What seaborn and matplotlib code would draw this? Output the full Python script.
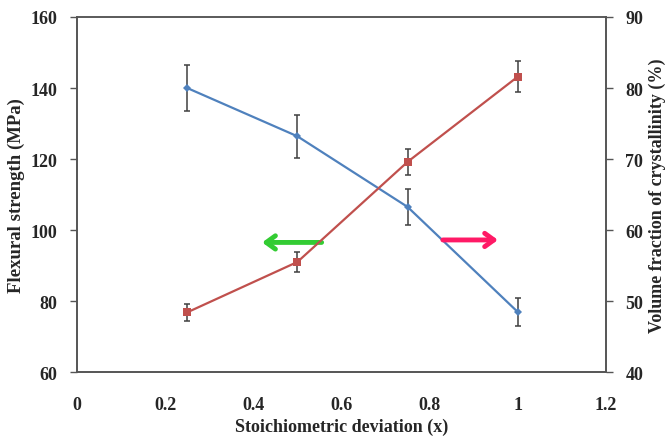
import matplotlib
matplotlib.use("Agg")
import matplotlib.pyplot as plt
import seaborn as sns
import pandas as pd

# Stoichiometric deviation and measured properties
deviation = [0.25, 0.5, 0.75, 1.0]
flexural_strength = [140.0, 126.4, 106.5, 76.9]
flexural_err = [6.4, 6.1, 5.1, 4.0]
crystallinity = [48.4, 55.5, 69.6, 81.6]
crystallinity_err = [1.15, 1.4, 1.8, 2.2]

x_ticks = [0, 0.2, 0.4, 0.6, 0.8, 1, 1.2]
x_tick_labels = ["0", "0.2", "0.4", "0.6", "0.8", "1", "1.2"]
left_ticks = [60, 80, 100, 120, 140, 160]
right_ticks = [40, 50, 60, 70, 80, 90]

sns.set_theme(style="white")
plt.rcParams["font.family"] = ["Liberation Serif", "DejaVu Serif"]
plt.rcParams["font.weight"] = "bold"

df = pd.DataFrame({"x": deviation, "strength": flexural_strength,
                   "cryst": crystallinity})

fig = plt.figure(figsize=(6.67, 4.39), dpi=100)
ax = fig.add_axes([0.1154, 0.1503, 0.7931, 0.8087])
ax2 = ax.twinx()

blue = "#4F81BD"
red = "#C0504D"
err_color = "#404040"

sns.lineplot(data=df, x="x", y="strength", ax=ax, color=blue, lw=1.6,
             marker="D", markersize=4, markeredgewidth=0, zorder=3)
ax.errorbar(deviation, flexural_strength, yerr=flexural_err, fmt="none",
            ecolor=err_color, elinewidth=1.1, capsize=2.5, capthick=1.1, zorder=2)

sns.lineplot(data=df, x="x", y="cryst", ax=ax2, color=red, lw=1.6,
             marker="s", markersize=6, markeredgewidth=0, zorder=3)
ax2.errorbar(deviation, crystallinity, yerr=crystallinity_err, fmt="none",
             ecolor=err_color, elinewidth=1.1, capsize=2.5, capthick=1.1, zorder=2)

ax.set_xlim(0, 1.2)
ax.set_ylim(60, 160)
ax2.set_ylim(40, 90)
ax.set_xticks(x_ticks)
ax.set_xticklabels(x_tick_labels)
ax.set_yticks(left_ticks)
ax2.set_yticks(right_ticks)

for a in (ax, ax2):
    for s in a.spines.values():
        s.set_color("#555555")
        s.set_linewidth(1.2)
    a.tick_params(axis="both", which="major", direction="out", length=5,
                  width=1, color="#555555", labelsize=13, pad=4)
    for lbl in a.get_xticklabels() + a.get_yticklabels():
        lbl.set_fontweight("bold")
ax.tick_params(axis="y", pad=9)
ax2.tick_params(axis="y", pad=9)
ax.tick_params(axis="x", pad=12)
ax.spines["top"].set_color("#777777")

ax.set_xlabel("Stoichiometric deviation (x)", fontsize=13, fontweight="bold",
              labelpad=4)
ax.set_ylabel("Flexural strength (MPa)", fontsize=13.5, fontweight="bold",
              labelpad=4)
ax2.set_ylabel("Volume fraction of crystallinity (%)", fontsize=13,
               fontweight="bold", labelpad=4)

# Arrows indicating which axis each curve belongs to
ax.annotate("", xy=(0.42, 96.5), xytext=(0.555, 96.5),
            arrowprops=dict(arrowstyle="->,head_length=0.55,head_width=0.4",
                            color="#33CC33", lw=3.5, shrinkA=0, shrinkB=0))
ax.annotate("", xy=(0.955, 97.2), xytext=(0.83, 97.2),
            arrowprops=dict(arrowstyle="->,head_length=0.55,head_width=0.4",
                            color="#FF1A66", lw=3.5, shrinkA=0, shrinkB=0))

fig.savefig("out.png", dpi=100)
